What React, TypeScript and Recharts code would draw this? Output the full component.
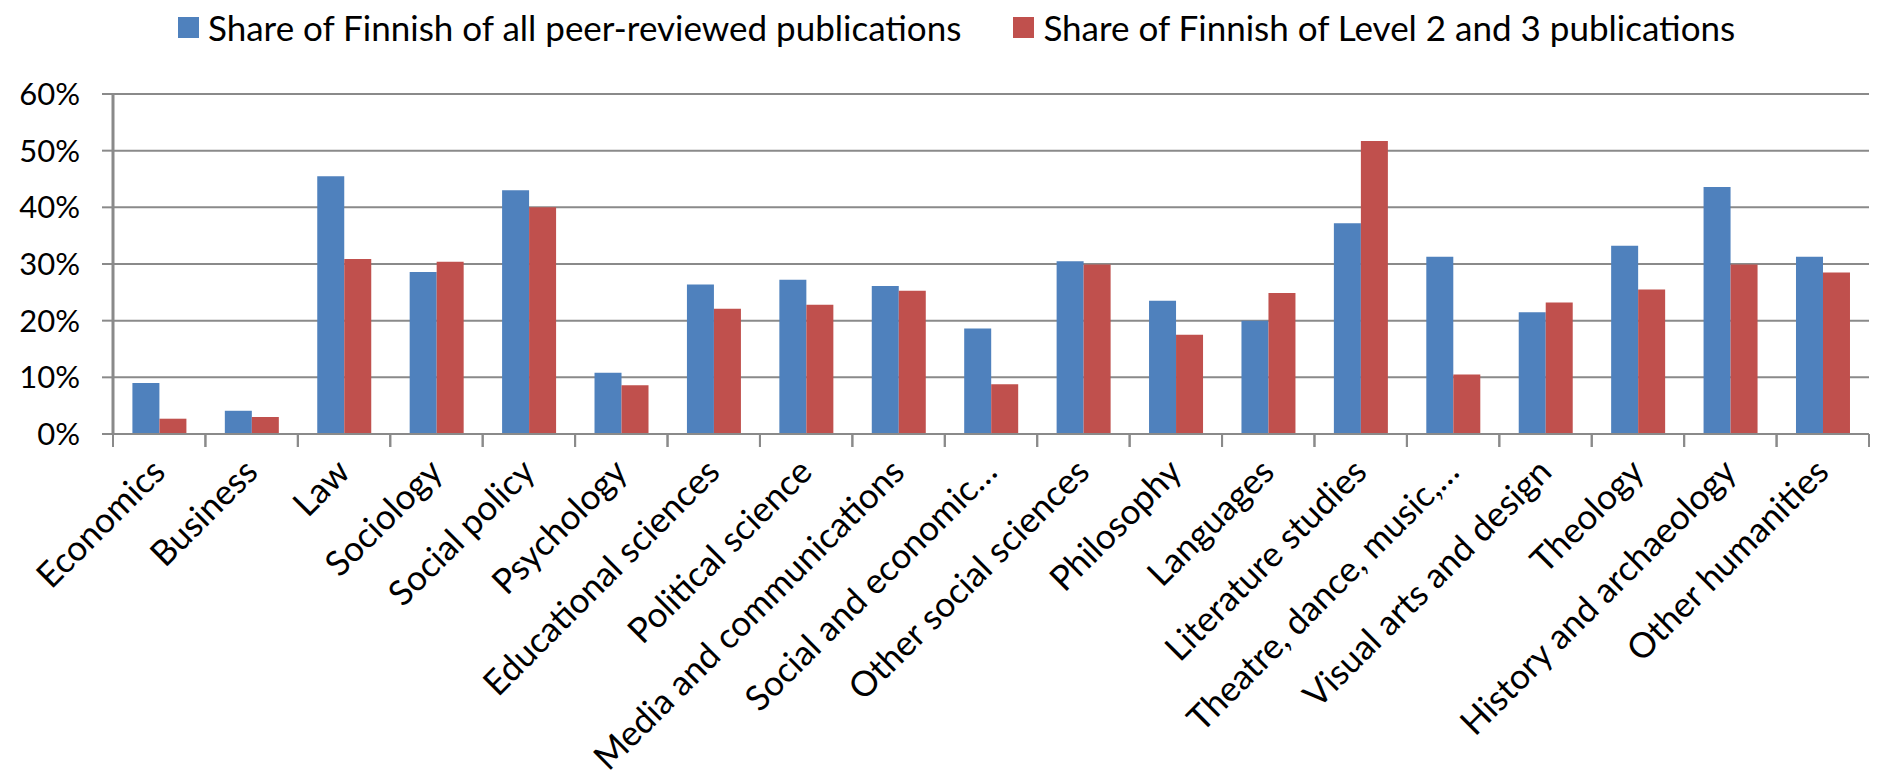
import React from 'react';
import { BarChart, Bar, XAxis, YAxis, CartesianGrid } from 'recharts';

const categories = [
  'Economics',
  'Business',
  'Law',
  'Sociology',
  'Social policy',
  'Psychology',
  'Educational sciences',
  'Political science',
  'Media and communications',
  'Social and economic…',
  'Other social sciences',
  'Philosophy',
  'Languages',
  'Literature studies',
  'Theatre, dance, music,…',
  'Visual arts and design',
  'Theology',
  'History and archaeology',
  'Other humanities',
];

// share of Finnish, in percent
const allPeerReviewed = [9.0, 4.1, 45.5, 28.6, 43.0, 10.8, 26.4, 27.2, 26.1, 18.6, 30.5, 23.5, 20.0, 37.2, 31.3, 21.5, 33.2, 43.6, 31.3];
const level2and3 = [2.7, 3.0, 30.9, 30.4, 40.0, 8.6, 22.1, 22.8, 25.3, 8.8, 29.9, 17.5, 24.9, 51.7, 10.5, 23.2, 25.5, 29.9, 28.5];

const yTicks = [0, 10, 20, 30, 40, 50, 60];

const seriesNames = [
  'Share of Finnish of all peer-reviewed publications',
  'Share of Finnish of Level 2 and 3 publications',
];

const BLUE = '#4F81BD';
const RED = '#C0504D';
const GRID = '#8a8a8a';
const FONT = 'Lato, "Liberation Sans", sans-serif';

const data = categories.map((name, i) => ({
  name,
  all: allPeerReviewed[i],
  level: level2and3[i],
}));

const CHART_W = 1888;
const CHART_H = 779;
const PLOT_LEFT = 113;
const PLOT_RIGHT = 1869;
const BAND = (PLOT_RIGHT - PLOT_LEFT) / categories.length;

// Excel-style ticks sit between categories, labels rotated under the center
const CategoryTick = (props: any) => {
  const { x, y, payload } = props;
  const half = payload && payload.offset ? payload.offset : BAND / 2;
  const tx = x + 8;
  const ty = y + 40;
  return (
    <g>
      <line x1={x - half} x2={x - half} y1={y} y2={y + 13} stroke={GRID} strokeWidth={2} />
      <line x1={x + half} x2={x + half} y1={y} y2={y + 13} stroke={GRID} strokeWidth={2} />
      <text
        x={tx}
        y={ty}
        textAnchor="end"
        fill="#000"
        fontSize={35}
        fontFamily={FONT}
        transform={`rotate(-45, ${tx}, ${ty})`}
      >
        {payload.value}
      </text>
    </g>
  );
};

const LegendItem = ({ color, label }: { color: string; label: string }) => (
  <div style={{ display: 'flex', alignItems: 'center' }}>
    <span style={{ width: 21, height: 21, background: color, display: 'inline-block', marginRight: 9 }} />
    <span>{label}</span>
  </div>
);

const App: React.FC = () => {
  return (
    <div style={{ position: 'absolute', left: 0, top: 0, width: CHART_W, height: CHART_H, background: '#fff', fontFamily: FONT }}>
      <div
        style={{
          position: 'absolute',
          top: 6,
          left: 178,
          display: 'flex',
          gap: 52,
          fontSize: 35,
          lineHeight: '42px',
          color: '#000',
          whiteSpace: 'nowrap',
        }}
      >
        <LegendItem color={BLUE} label={seriesNames[0]} />
        <LegendItem color={RED} label={seriesNames[1]} />
      </div>
      <BarChart
        width={CHART_W}
        height={CHART_H}
        data={data}
        margin={{ top: 94, right: CHART_W - PLOT_RIGHT, left: 0, bottom: 0 }}
        barCategoryGap="21%"
        barGap={0}
      >
        <CartesianGrid horizontal vertical={false} stroke={GRID} strokeWidth={2} />
        <XAxis
          dataKey="name"
          interval={0}
          height={CHART_H - 94 - 340}
          axisLine={{ stroke: GRID, strokeWidth: 2 }}
          tickLine={false}
          tickSize={0}
          tickMargin={0}
          tick={<CategoryTick />}
        />
        <YAxis
          width={PLOT_LEFT}
          domain={[0, 60]}
          ticks={yTicks}
          interval={0}
          tickFormatter={(v: number) => `${v}%`}
          axisLine={{ stroke: GRID, strokeWidth: 3 }}
          tickLine={{ stroke: GRID, strokeWidth: 2 }}
          tickSize={11}
          tickMargin={22}
          tick={{ fill: '#000', fontSize: 31, fontFamily: FONT }}
        />
        <Bar dataKey="all" name={seriesNames[0]} fill={BLUE} isAnimationActive={false} />
        <Bar dataKey="level" name={seriesNames[1]} fill={RED} isAnimationActive={false} />
      </BarChart>
    </div>
  );
};

export default App;
